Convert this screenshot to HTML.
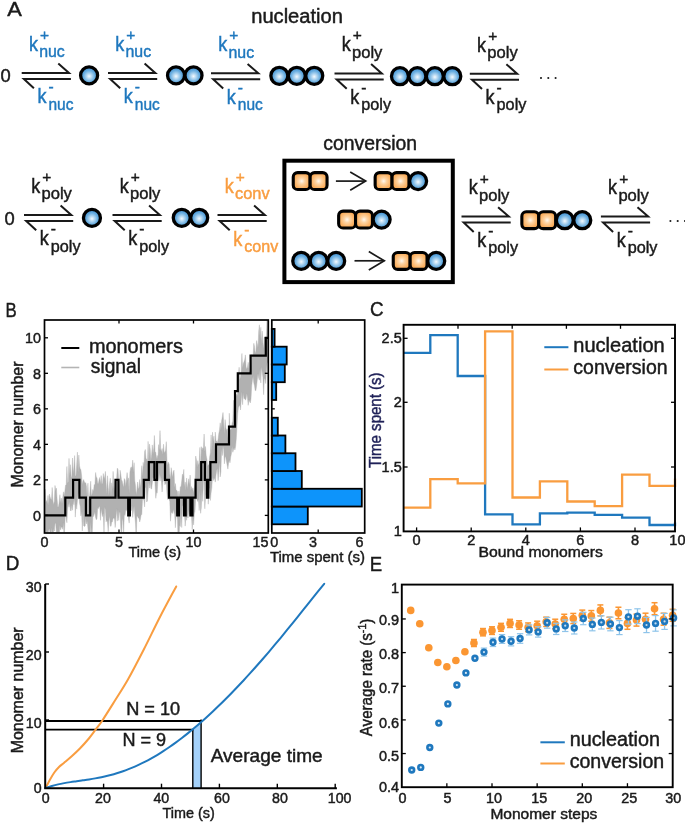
<!DOCTYPE html>
<html><head><meta charset="utf-8"><title>Figure</title>
<style>html,body{margin:0;padding:0;background:#fff}svg{display:block}</style></head>
<body>
<svg width="685" height="823" viewBox="0 0 685 823" font-family='"Liberation Sans", "DejaVu Sans", sans-serif'>
<defs>
<radialGradient id="gb" cx="50%" cy="55%" r="55%"><stop offset="0" stop-color="#f6fbfe"/><stop offset="0.25" stop-color="#b9daf2"/><stop offset="0.6" stop-color="#6aaee0"/><stop offset="1" stop-color="#3388d0"/></radialGradient>
<radialGradient id="go" cx="50%" cy="50%" r="60%"><stop offset="0" stop-color="#fff9f1"/><stop offset="0.3" stop-color="#fdd3a2"/><stop offset="0.7" stop-color="#fbb264"/><stop offset="1" stop-color="#f9a145"/></radialGradient>
<clipPath id="cB"><rect x="44.5" y="320" width="223.8" height="212.3"/></clipPath>
</defs>
<rect width="685" height="823" fill="#fff"/>
<text x="7.30" y="16.30" font-size="20.5" fill="#1a1a1a" stroke="#1a1a1a" stroke-width="0.45" textLength="14.60" lengthAdjust="spacingAndGlyphs">A</text>
<text x="251.20" y="23.20" font-size="19.5" fill="#1a1a1a" stroke="#1a1a1a" stroke-width="0.45" textLength="91.80" lengthAdjust="spacingAndGlyphs">nucleation</text>
<text x="323.30" y="150.00" font-size="19.5" fill="#1a1a1a" stroke="#1a1a1a" stroke-width="0.45" textLength="93.80" lengthAdjust="spacingAndGlyphs">conversion</text>
<text x="0.60" y="81.60" font-size="18" fill="#1a1a1a" stroke="#1a1a1a" stroke-width="0.45" textLength="10.20" lengthAdjust="spacingAndGlyphs">0</text>
<polyline points="21.70,72.90 69.00,72.90 58.30,63.50" fill="none" stroke="#1a1a1a" stroke-width="2.0" stroke-linejoin="miter"/>
<polyline points="70.90,78.90 23.90,78.90 33.90,88.20" fill="none" stroke="#1a1a1a" stroke-width="2.0" stroke-linejoin="miter"/>
<text x="28.90" y="50.70" font-size="20" fill="#1f78be" stroke="#1f78be" stroke-width="0.45" textLength="9.00" lengthAdjust="spacingAndGlyphs">k</text>
<text x="44.60" y="39.90" font-size="15.5" fill="#1f78be" stroke="#1f78be" stroke-width="0.45" text-anchor="middle">+</text>
<text x="39.20" y="57.30" font-size="16.8" fill="#1f78be" stroke="#1f78be" stroke-width="0.45" textLength="25.60" lengthAdjust="spacingAndGlyphs">nuc</text>
<text x="37.50" y="103.40" font-size="20" fill="#1f78be" stroke="#1f78be" stroke-width="0.45" textLength="9.00" lengthAdjust="spacingAndGlyphs">k</text>
<text x="51.10" y="92.40" font-size="15.5" fill="#1f78be" stroke="#1f78be" stroke-width="0.45" text-anchor="middle">-</text>
<text x="48.50" y="109.50" font-size="16.8" fill="#1f78be" stroke="#1f78be" stroke-width="0.45" textLength="25.00" lengthAdjust="spacingAndGlyphs">nuc</text>
<polyline points="108.00,72.90 155.30,72.90 144.60,63.50" fill="none" stroke="#1a1a1a" stroke-width="2.0" stroke-linejoin="miter"/>
<polyline points="157.20,78.90 110.20,78.90 120.20,88.20" fill="none" stroke="#1a1a1a" stroke-width="2.0" stroke-linejoin="miter"/>
<text x="115.20" y="50.70" font-size="20" fill="#1f78be" stroke="#1f78be" stroke-width="0.45" textLength="9.00" lengthAdjust="spacingAndGlyphs">k</text>
<text x="130.90" y="39.90" font-size="15.5" fill="#1f78be" stroke="#1f78be" stroke-width="0.45" text-anchor="middle">+</text>
<text x="125.50" y="57.30" font-size="16.8" fill="#1f78be" stroke="#1f78be" stroke-width="0.45" textLength="25.60" lengthAdjust="spacingAndGlyphs">nuc</text>
<text x="123.80" y="103.40" font-size="20" fill="#1f78be" stroke="#1f78be" stroke-width="0.45" textLength="9.00" lengthAdjust="spacingAndGlyphs">k</text>
<text x="137.40" y="92.40" font-size="15.5" fill="#1f78be" stroke="#1f78be" stroke-width="0.45" text-anchor="middle">-</text>
<text x="134.80" y="109.50" font-size="16.8" fill="#1f78be" stroke="#1f78be" stroke-width="0.45" textLength="25.00" lengthAdjust="spacingAndGlyphs">nuc</text>
<polyline points="211.00,73.30 258.30,73.30 247.60,63.90" fill="none" stroke="#1a1a1a" stroke-width="2.0" stroke-linejoin="miter"/>
<polyline points="260.20,79.30 213.20,79.30 223.20,88.60" fill="none" stroke="#1a1a1a" stroke-width="2.0" stroke-linejoin="miter"/>
<text x="218.20" y="51.10" font-size="20" fill="#1f78be" stroke="#1f78be" stroke-width="0.45" textLength="9.00" lengthAdjust="spacingAndGlyphs">k</text>
<text x="233.90" y="40.30" font-size="15.5" fill="#1f78be" stroke="#1f78be" stroke-width="0.45" text-anchor="middle">+</text>
<text x="228.50" y="57.70" font-size="16.8" fill="#1f78be" stroke="#1f78be" stroke-width="0.45" textLength="25.60" lengthAdjust="spacingAndGlyphs">nuc</text>
<text x="226.80" y="103.80" font-size="20" fill="#1f78be" stroke="#1f78be" stroke-width="0.45" textLength="9.00" lengthAdjust="spacingAndGlyphs">k</text>
<text x="240.40" y="92.80" font-size="15.5" fill="#1f78be" stroke="#1f78be" stroke-width="0.45" text-anchor="middle">-</text>
<text x="237.80" y="109.90" font-size="16.8" fill="#1f78be" stroke="#1f78be" stroke-width="0.45" textLength="25.00" lengthAdjust="spacingAndGlyphs">nuc</text>
<polyline points="334.50,73.40 381.80,73.40 371.10,64.00" fill="none" stroke="#1a1a1a" stroke-width="2.0" stroke-linejoin="miter"/>
<polyline points="383.70,79.40 336.70,79.40 346.70,88.70" fill="none" stroke="#1a1a1a" stroke-width="2.0" stroke-linejoin="miter"/>
<text x="341.70" y="51.20" font-size="20" fill="#1a1a1a" stroke="#1a1a1a" stroke-width="0.45" textLength="9.00" lengthAdjust="spacingAndGlyphs">k</text>
<text x="357.40" y="40.40" font-size="15.5" fill="#1a1a1a" stroke="#1a1a1a" stroke-width="0.45" text-anchor="middle">+</text>
<text x="352.00" y="57.80" font-size="16.8" fill="#1a1a1a" stroke="#1a1a1a" stroke-width="0.45" textLength="30.40" lengthAdjust="spacingAndGlyphs">poly</text>
<text x="350.30" y="103.90" font-size="20" fill="#1a1a1a" stroke="#1a1a1a" stroke-width="0.45" textLength="9.00" lengthAdjust="spacingAndGlyphs">k</text>
<text x="363.90" y="92.90" font-size="15.5" fill="#1a1a1a" stroke="#1a1a1a" stroke-width="0.45" text-anchor="middle">-</text>
<text x="361.30" y="110.00" font-size="16.8" fill="#1a1a1a" stroke="#1a1a1a" stroke-width="0.45" textLength="29.80" lengthAdjust="spacingAndGlyphs">poly</text>
<polyline points="469.80,73.70 517.10,73.70 506.40,64.30" fill="none" stroke="#1a1a1a" stroke-width="2.0" stroke-linejoin="miter"/>
<polyline points="519.00,79.70 472.00,79.70 482.00,89.00" fill="none" stroke="#1a1a1a" stroke-width="2.0" stroke-linejoin="miter"/>
<text x="477.00" y="51.50" font-size="20" fill="#1a1a1a" stroke="#1a1a1a" stroke-width="0.45" textLength="9.00" lengthAdjust="spacingAndGlyphs">k</text>
<text x="492.70" y="40.70" font-size="15.5" fill="#1a1a1a" stroke="#1a1a1a" stroke-width="0.45" text-anchor="middle">+</text>
<text x="487.30" y="58.10" font-size="16.8" fill="#1a1a1a" stroke="#1a1a1a" stroke-width="0.45" textLength="30.40" lengthAdjust="spacingAndGlyphs">poly</text>
<text x="485.60" y="104.20" font-size="20" fill="#1a1a1a" stroke="#1a1a1a" stroke-width="0.45" textLength="9.00" lengthAdjust="spacingAndGlyphs">k</text>
<text x="499.20" y="93.20" font-size="15.5" fill="#1a1a1a" stroke="#1a1a1a" stroke-width="0.45" text-anchor="middle">-</text>
<text x="496.60" y="110.30" font-size="16.8" fill="#1a1a1a" stroke="#1a1a1a" stroke-width="0.45" textLength="29.80" lengthAdjust="spacingAndGlyphs">poly</text>
<circle cx="89.10" cy="75.40" r="8.5" fill="url(#gb)" stroke="#000" stroke-width="3.3"/>
<circle cx="176.05" cy="75.40" r="8.5" fill="url(#gb)" stroke="#000" stroke-width="3.3"/>
<circle cx="193.50" cy="75.40" r="8.5" fill="url(#gb)" stroke="#000" stroke-width="3.3"/>
<circle cx="279.35" cy="75.80" r="8.5" fill="url(#gb)" stroke="#000" stroke-width="3.3"/>
<circle cx="296.80" cy="75.80" r="8.5" fill="url(#gb)" stroke="#000" stroke-width="3.3"/>
<circle cx="314.25" cy="75.80" r="8.5" fill="url(#gb)" stroke="#000" stroke-width="3.3"/>
<circle cx="399.95" cy="76.20" r="8.5" fill="url(#gb)" stroke="#000" stroke-width="3.3"/>
<circle cx="417.40" cy="76.20" r="8.5" fill="url(#gb)" stroke="#000" stroke-width="3.3"/>
<circle cx="434.85" cy="76.20" r="8.5" fill="url(#gb)" stroke="#000" stroke-width="3.3"/>
<circle cx="452.30" cy="76.20" r="8.5" fill="url(#gb)" stroke="#000" stroke-width="3.3"/>
<circle cx="541" cy="78" r="1.05" fill="#1a1a1a"/>
<circle cx="548.3" cy="78" r="1.05" fill="#1a1a1a"/>
<circle cx="555.6" cy="78" r="1.05" fill="#1a1a1a"/>
<text x="4.60" y="225.00" font-size="18" fill="#1a1a1a" stroke="#1a1a1a" stroke-width="0.45" textLength="10.20" lengthAdjust="spacingAndGlyphs">0</text>
<polyline points="24.00,214.90 71.30,214.90 60.60,205.50" fill="none" stroke="#1a1a1a" stroke-width="2.0" stroke-linejoin="miter"/>
<polyline points="73.20,220.90 26.20,220.90 36.20,230.20" fill="none" stroke="#1a1a1a" stroke-width="2.0" stroke-linejoin="miter"/>
<text x="31.20" y="192.70" font-size="20" fill="#1a1a1a" stroke="#1a1a1a" stroke-width="0.45" textLength="9.00" lengthAdjust="spacingAndGlyphs">k</text>
<text x="46.90" y="181.90" font-size="15.5" fill="#1a1a1a" stroke="#1a1a1a" stroke-width="0.45" text-anchor="middle">+</text>
<text x="41.50" y="199.30" font-size="16.8" fill="#1a1a1a" stroke="#1a1a1a" stroke-width="0.45" textLength="30.40" lengthAdjust="spacingAndGlyphs">poly</text>
<text x="39.80" y="245.40" font-size="20" fill="#1a1a1a" stroke="#1a1a1a" stroke-width="0.45" textLength="9.00" lengthAdjust="spacingAndGlyphs">k</text>
<text x="53.40" y="234.40" font-size="15.5" fill="#1a1a1a" stroke="#1a1a1a" stroke-width="0.45" text-anchor="middle">-</text>
<text x="50.80" y="251.50" font-size="16.8" fill="#1a1a1a" stroke="#1a1a1a" stroke-width="0.45" textLength="29.80" lengthAdjust="spacingAndGlyphs">poly</text>
<polyline points="112.50,214.90 159.80,214.90 149.10,205.50" fill="none" stroke="#1a1a1a" stroke-width="2.0" stroke-linejoin="miter"/>
<polyline points="161.70,220.90 114.70,220.90 124.70,230.20" fill="none" stroke="#1a1a1a" stroke-width="2.0" stroke-linejoin="miter"/>
<text x="119.70" y="192.70" font-size="20" fill="#1a1a1a" stroke="#1a1a1a" stroke-width="0.45" textLength="9.00" lengthAdjust="spacingAndGlyphs">k</text>
<text x="135.40" y="181.90" font-size="15.5" fill="#1a1a1a" stroke="#1a1a1a" stroke-width="0.45" text-anchor="middle">+</text>
<text x="130.00" y="199.30" font-size="16.8" fill="#1a1a1a" stroke="#1a1a1a" stroke-width="0.45" textLength="30.40" lengthAdjust="spacingAndGlyphs">poly</text>
<text x="128.30" y="245.40" font-size="20" fill="#1a1a1a" stroke="#1a1a1a" stroke-width="0.45" textLength="9.00" lengthAdjust="spacingAndGlyphs">k</text>
<text x="141.90" y="234.40" font-size="15.5" fill="#1a1a1a" stroke="#1a1a1a" stroke-width="0.45" text-anchor="middle">-</text>
<text x="139.30" y="251.50" font-size="16.8" fill="#1a1a1a" stroke="#1a1a1a" stroke-width="0.45" textLength="29.80" lengthAdjust="spacingAndGlyphs">poly</text>
<polyline points="217.50,215.00 264.80,215.00 254.10,205.60" fill="none" stroke="#1a1a1a" stroke-width="2.0" stroke-linejoin="miter"/>
<polyline points="266.70,221.00 219.70,221.00 229.70,230.30" fill="none" stroke="#1a1a1a" stroke-width="2.0" stroke-linejoin="miter"/>
<text x="224.70" y="192.80" font-size="20" fill="#f99d40" stroke="#f99d40" stroke-width="0.45" textLength="9.00" lengthAdjust="spacingAndGlyphs">k</text>
<text x="240.40" y="182.00" font-size="15.5" fill="#f99d40" stroke="#f99d40" stroke-width="0.45" text-anchor="middle">+</text>
<text x="235.00" y="199.40" font-size="16.8" fill="#f99d40" stroke="#f99d40" stroke-width="0.45" textLength="34.60" lengthAdjust="spacingAndGlyphs">conv</text>
<text x="233.30" y="245.50" font-size="20" fill="#f99d40" stroke="#f99d40" stroke-width="0.45" textLength="9.00" lengthAdjust="spacingAndGlyphs">k</text>
<text x="246.90" y="234.50" font-size="15.5" fill="#f99d40" stroke="#f99d40" stroke-width="0.45" text-anchor="middle">-</text>
<text x="244.30" y="251.60" font-size="16.8" fill="#f99d40" stroke="#f99d40" stroke-width="0.45" textLength="34.00" lengthAdjust="spacingAndGlyphs">conv</text>
<polyline points="461.50,216.60 508.80,216.60 498.10,207.20" fill="none" stroke="#1a1a1a" stroke-width="2.0" stroke-linejoin="miter"/>
<polyline points="510.70,222.60 463.70,222.60 473.70,231.90" fill="none" stroke="#1a1a1a" stroke-width="2.0" stroke-linejoin="miter"/>
<text x="468.70" y="194.40" font-size="20" fill="#1a1a1a" stroke="#1a1a1a" stroke-width="0.45" textLength="9.00" lengthAdjust="spacingAndGlyphs">k</text>
<text x="484.40" y="183.60" font-size="15.5" fill="#1a1a1a" stroke="#1a1a1a" stroke-width="0.45" text-anchor="middle">+</text>
<text x="479.00" y="201.00" font-size="16.8" fill="#1a1a1a" stroke="#1a1a1a" stroke-width="0.45" textLength="30.40" lengthAdjust="spacingAndGlyphs">poly</text>
<text x="477.30" y="247.10" font-size="20" fill="#1a1a1a" stroke="#1a1a1a" stroke-width="0.45" textLength="9.00" lengthAdjust="spacingAndGlyphs">k</text>
<text x="490.90" y="236.10" font-size="15.5" fill="#1a1a1a" stroke="#1a1a1a" stroke-width="0.45" text-anchor="middle">-</text>
<text x="488.30" y="253.20" font-size="16.8" fill="#1a1a1a" stroke="#1a1a1a" stroke-width="0.45" textLength="29.80" lengthAdjust="spacingAndGlyphs">poly</text>
<polyline points="600.90,216.60 648.20,216.60 637.50,207.20" fill="none" stroke="#1a1a1a" stroke-width="2.0" stroke-linejoin="miter"/>
<polyline points="650.10,222.60 603.10,222.60 613.10,231.90" fill="none" stroke="#1a1a1a" stroke-width="2.0" stroke-linejoin="miter"/>
<text x="608.10" y="194.40" font-size="20" fill="#1a1a1a" stroke="#1a1a1a" stroke-width="0.45" textLength="9.00" lengthAdjust="spacingAndGlyphs">k</text>
<text x="623.80" y="183.60" font-size="15.5" fill="#1a1a1a" stroke="#1a1a1a" stroke-width="0.45" text-anchor="middle">+</text>
<text x="618.40" y="201.00" font-size="16.8" fill="#1a1a1a" stroke="#1a1a1a" stroke-width="0.45" textLength="30.40" lengthAdjust="spacingAndGlyphs">poly</text>
<text x="616.70" y="247.10" font-size="20" fill="#1a1a1a" stroke="#1a1a1a" stroke-width="0.45" textLength="9.00" lengthAdjust="spacingAndGlyphs">k</text>
<text x="630.30" y="236.10" font-size="15.5" fill="#1a1a1a" stroke="#1a1a1a" stroke-width="0.45" text-anchor="middle">-</text>
<text x="627.70" y="253.20" font-size="16.8" fill="#1a1a1a" stroke="#1a1a1a" stroke-width="0.45" textLength="29.80" lengthAdjust="spacingAndGlyphs">poly</text>
<circle cx="91.95" cy="217.90" r="8.5" fill="url(#gb)" stroke="#000" stroke-width="3.3"/>
<circle cx="181.75" cy="217.80" r="8.5" fill="url(#gb)" stroke="#000" stroke-width="3.3"/>
<circle cx="199.20" cy="217.80" r="8.5" fill="url(#gb)" stroke="#000" stroke-width="3.3"/>
<rect x="521.85" y="211.75" width="16.9" height="16.9" rx="4.4" fill="url(#go)" stroke="#000" stroke-width="3.1"/>
<rect x="538.75" y="211.75" width="16.9" height="16.9" rx="4.4" fill="url(#go)" stroke="#000" stroke-width="3.1"/>
<circle cx="564.80" cy="220.20" r="8.5" fill="url(#gb)" stroke="#000" stroke-width="3.3"/>
<circle cx="582.25" cy="220.20" r="8.5" fill="url(#gb)" stroke="#000" stroke-width="3.3"/>
<circle cx="670.4" cy="221" r="1.05" fill="#1a1a1a"/>
<circle cx="677.7" cy="221" r="1.05" fill="#1a1a1a"/>
<circle cx="685" cy="221" r="1.05" fill="#1a1a1a"/>
<rect x="284.4" y="160.7" width="168.4" height="121.4" fill="none" stroke="#000" stroke-width="4"/>
<rect x="293.25" y="172.65" width="16.9" height="16.9" rx="4.4" fill="url(#go)" stroke="#000" stroke-width="3.1"/>
<rect x="310.15" y="172.65" width="16.9" height="16.9" rx="4.4" fill="url(#go)" stroke="#000" stroke-width="3.1"/>
<line x1="335.90" y1="181.10" x2="365.70" y2="181.10" stroke="#1a1a1a" stroke-width="1.7" stroke-linecap="butt"/>
<polyline points="350.20,171.90 365.70,181.10 350.20,190.30" fill="none" stroke="#1a1a1a" stroke-width="1.7" stroke-linejoin="miter"/>
<rect x="375.15" y="172.65" width="16.9" height="16.9" rx="4.4" fill="url(#go)" stroke="#000" stroke-width="3.1"/>
<rect x="392.05" y="172.65" width="16.9" height="16.9" rx="4.4" fill="url(#go)" stroke="#000" stroke-width="3.1"/>
<circle cx="418.10" cy="181.10" r="8.5" fill="url(#gb)" stroke="#000" stroke-width="3.3"/>
<rect x="338.65" y="211.15" width="16.9" height="16.9" rx="4.4" fill="url(#go)" stroke="#000" stroke-width="3.1"/>
<rect x="355.55" y="211.15" width="16.9" height="16.9" rx="4.4" fill="url(#go)" stroke="#000" stroke-width="3.1"/>
<circle cx="381.60" cy="219.60" r="8.5" fill="url(#gb)" stroke="#000" stroke-width="3.3"/>
<circle cx="301.25" cy="260.90" r="8.5" fill="url(#gb)" stroke="#000" stroke-width="3.3"/>
<circle cx="318.70" cy="260.90" r="8.5" fill="url(#gb)" stroke="#000" stroke-width="3.3"/>
<circle cx="336.15" cy="260.90" r="8.5" fill="url(#gb)" stroke="#000" stroke-width="3.3"/>
<line x1="354.50" y1="260.80" x2="384.30" y2="260.80" stroke="#1a1a1a" stroke-width="1.7" stroke-linecap="butt"/>
<polyline points="368.80,251.60 384.30,260.80 368.80,270.00" fill="none" stroke="#1a1a1a" stroke-width="1.7" stroke-linejoin="miter"/>
<rect x="393.25" y="252.45" width="16.9" height="16.9" rx="4.4" fill="url(#go)" stroke="#000" stroke-width="3.1"/>
<rect x="410.15" y="252.45" width="16.9" height="16.9" rx="4.4" fill="url(#go)" stroke="#000" stroke-width="3.1"/>
<circle cx="436.20" cy="260.90" r="8.5" fill="url(#gb)" stroke="#000" stroke-width="3.3"/>
<text x="5.50" y="316.90" font-size="20.5" fill="#1a1a1a" stroke="#1a1a1a" stroke-width="0.45" textLength="11.20" lengthAdjust="spacingAndGlyphs">B</text>
<g clip-path="url(#cB)">
<polygon points="44.5,501.2 45.2,489.1 45.9,502.3 46.6,500.5 47.3,503.9 48.0,495.5 48.7,505.4 49.4,494.1 50.1,497.1 50.8,499.0 51.5,499.8 52.2,487.5 52.9,500.7 53.6,504.7 54.3,501.4 55.0,485.5 55.7,490.8 56.4,488.1 57.1,499.1 57.8,506.9 58.5,506.7 59.2,502.1 59.9,494.7 60.6,502.9 61.3,498.1 62.0,504.0 62.7,498.4 63.4,491.8 64.1,495.9 64.8,491.8 65.5,485.3 66.2,485.1 66.9,466.5 67.6,483.0 68.3,481.8 69.0,458.4 69.7,476.1 70.4,464.7 71.1,476.0 71.8,478.5 72.5,458.0 73.2,473.8 73.9,467.4 74.6,455.6 75.3,475.7 76.0,475.8 76.7,464.8 77.4,452.1 78.1,472.8 78.8,455.0 79.5,465.7 80.2,469.1 80.9,469.6 81.6,475.6 82.3,484.7 83.0,481.1 83.7,479.6 84.4,482.1 85.1,483.0 85.8,482.7 86.5,486.8 87.2,499.2 87.9,483.2 88.6,499.2 89.3,499.9 90.0,490.4 90.7,481.2 91.4,495.7 92.1,494.1 92.8,489.4 93.5,491.5 94.2,484.6 94.9,484.9 95.6,472.5 96.3,477.0 97.0,478.0 97.7,483.4 98.4,483.4 99.1,479.5 99.8,477.4 100.5,484.4 101.2,475.6 101.9,484.6 102.6,482.8 103.3,473.5 104.0,478.9 104.7,476.9 105.4,471.4 106.1,483.6 106.8,493.9 107.5,475.8 108.2,488.0 108.9,495.4 109.6,483.5 110.3,478.3 111.0,497.2 111.7,482.8 112.4,489.2 113.1,471.4 113.8,486.1 114.5,492.2 115.2,482.4 115.9,482.4 116.6,478.8 117.3,468.2 118.0,469.0 118.7,480.8 119.4,489.6 120.1,470.3 120.8,474.4 121.5,479.7 122.2,481.0 122.9,484.5 123.6,487.6 124.3,478.6 125.0,480.0 125.7,486.7 126.4,479.8 127.1,472.6 127.8,480.5 128.5,477.9 129.2,493.6 129.9,472.3 130.6,467.9 131.3,466.8 132.0,469.1 132.7,460.1 133.4,472.6 134.1,462.7 134.8,480.7 135.5,485.7 136.2,494.7 136.9,490.3 137.6,482.0 138.3,488.0 139.0,488.8 139.7,479.5 140.4,488.0 141.1,480.4 141.8,465.7 142.5,476.8 143.2,462.4 143.9,467.5 144.6,451.7 145.3,449.5 146.0,458.8 146.7,459.0 147.4,464.3 148.1,441.4 148.8,461.5 149.5,444.1 150.2,449.2 150.9,460.9 151.6,454.4 152.3,444.9 153.0,453.9 153.7,448.4 154.4,435.5 155.1,452.1 155.8,452.3 156.5,459.2 157.2,455.4 157.9,458.9 158.6,444.6 159.3,450.4 160.0,430.6 160.7,449.1 161.4,451.7 162.1,448.5 162.8,454.5 163.5,444.2 164.2,452.5 164.9,452.3 165.6,449.9 166.3,441.7 167.0,460.9 167.7,465.3 168.4,462.2 169.1,464.1 169.8,474.0 170.5,478.9 171.2,467.7 171.9,472.4 172.6,477.4 173.3,471.8 174.0,470.2 174.7,487.4 175.4,483.6 176.1,490.6 176.8,490.3 177.5,492.0 178.2,499.5 178.9,491.0 179.6,497.6 180.3,486.7 181.0,487.1 181.7,481.0 182.4,474.1 183.1,476.3 183.8,469.4 184.5,486.9 185.2,482.0 185.9,490.6 186.6,478.1 187.3,488.9 188.0,483.8 188.7,478.8 189.4,485.2 190.1,475.1 190.8,490.6 191.5,486.6 192.2,490.2 192.9,487.9 193.6,492.9 194.3,488.3 195.0,483.8 195.7,456.0 196.4,459.8 197.1,467.1 197.8,460.6 198.5,465.2 199.2,463.0 199.9,447.4 200.6,471.0 201.3,446.6 202.0,450.3 202.7,447.8 203.4,448.5 204.1,434.0 204.8,451.5 205.5,446.5 206.2,455.6 206.9,459.1 207.6,466.5 208.3,464.7 209.0,464.9 209.7,456.7 210.4,452.7 211.1,434.9 211.8,453.3 212.5,432.2 213.2,441.5 213.9,436.2 214.6,450.0 215.3,432.1 216.0,440.9 216.7,441.1 217.4,442.8 218.1,439.0 218.8,433.5 219.5,429.9 220.2,422.8 220.9,430.2 221.6,420.8 222.3,417.1 223.0,412.5 223.7,422.6 224.4,434.0 225.1,419.6 225.8,427.5 226.5,430.8 227.2,428.8 227.9,437.4 228.6,440.2 229.3,413.2 230.0,429.5 230.7,429.8 231.4,428.9 232.1,422.9 232.8,421.2 233.5,400.3 234.2,421.7 234.9,415.8 235.6,401.7 236.3,394.2 237.0,396.1 237.7,392.4 238.4,376.5 239.1,367.3 239.8,379.4 240.5,376.8 241.2,371.1 241.9,353.5 242.6,368.1 243.3,363.6 244.0,361.8 244.7,359.8 245.4,354.9 246.1,367.1 246.8,369.2 247.5,366.7 248.2,362.3 248.9,368.0 249.6,374.3 250.3,372.3 251.0,366.3 251.7,354.5 252.4,357.4 253.1,355.5 253.8,343.3 254.5,346.8 255.2,353.6 255.9,351.0 256.6,340.6 257.3,344.1 258.0,347.8 258.7,331.2 259.4,324.8 260.1,338.7 260.8,327.4 261.5,344.1 262.2,331.1 262.9,343.1 263.6,349.0 264.3,337.3 265.0,337.4 265.7,347.9 266.4,337.3 267.1,315.1 267.8,330.6 267.8,362.0 267.1,363.4 266.4,371.2 265.7,383.6 265.0,378.7 264.3,378.8 263.6,394.7 262.9,377.3 262.2,371.9 261.5,366.4 260.8,382.9 260.1,368.0 259.4,380.2 258.7,378.1 258.0,373.6 257.3,379.4 256.6,385.8 255.9,390.6 255.2,390.6 254.5,385.7 253.8,383.0 253.1,376.3 252.4,380.2 251.7,385.8 251.0,398.9 250.3,402.9 249.6,401.4 248.9,399.8 248.2,405.3 247.5,397.9 246.8,393.4 246.1,398.6 245.4,400.2 244.7,398.3 244.0,398.9 243.3,392.8 242.6,404.7 241.9,391.8 241.2,400.6 240.5,410.0 239.8,405.3 239.1,405.9 238.4,407.6 237.7,414.0 237.0,426.1 236.3,438.6 235.6,446.6 234.9,450.0 234.2,447.4 233.5,449.7 232.8,452.3 232.1,446.5 231.4,453.8 230.7,457.0 230.0,462.8 229.3,459.9 228.6,462.9 227.9,469.1 227.2,465.2 226.5,461.7 225.8,457.6 225.1,456.5 224.4,463.8 223.7,449.4 223.0,445.9 222.3,455.6 221.6,448.9 220.9,471.8 220.2,476.9 219.5,461.1 218.8,472.3 218.1,480.7 217.4,468.6 216.7,470.5 216.0,475.1 215.3,482.1 214.6,478.7 213.9,478.3 213.2,480.6 212.5,476.5 211.8,487.8 211.1,492.7 210.4,500.5 209.7,488.6 209.0,487.9 208.3,504.2 207.6,488.7 206.9,496.5 206.2,493.2 205.5,496.8 204.8,508.8 204.1,481.1 203.4,480.6 202.7,501.3 202.0,490.4 201.3,507.8 200.6,513.3 199.9,490.6 199.2,510.5 198.5,499.1 197.8,501.5 197.1,499.6 196.4,498.5 195.7,498.4 195.0,511.3 194.3,514.0 193.6,524.9 192.9,517.1 192.2,529.4 191.5,516.0 190.8,516.2 190.1,513.0 189.4,514.5 188.7,510.3 188.0,518.0 187.3,514.6 186.6,520.3 185.9,515.4 185.2,526.1 184.5,514.2 183.8,505.2 183.1,506.3 182.4,505.4 181.7,527.5 181.0,512.6 180.3,526.4 179.6,525.6 178.9,539.8 178.2,545.7 177.5,520.1 176.8,515.2 176.1,512.0 175.4,527.7 174.7,514.7 174.0,512.3 173.3,509.3 172.6,513.5 171.9,512.2 171.2,513.0 170.5,521.2 169.8,501.2 169.1,499.4 168.4,495.0 167.7,499.5 167.0,493.7 166.3,481.5 165.6,483.7 164.9,484.7 164.2,478.0 163.5,479.7 162.8,482.4 162.1,492.0 161.4,480.9 160.7,475.1 160.0,480.9 159.3,472.7 158.6,479.6 157.9,481.0 157.2,493.1 156.5,492.5 155.8,498.3 155.1,485.9 154.4,470.5 153.7,478.0 153.0,476.8 152.3,483.1 151.6,489.0 150.9,488.5 150.2,480.8 149.5,488.1 148.8,482.0 148.1,490.9 147.4,500.8 146.7,502.0 146.0,487.0 145.3,488.2 144.6,506.9 143.9,500.2 143.2,499.0 142.5,499.6 141.8,514.6 141.1,514.7 140.4,519.2 139.7,522.0 139.0,518.2 138.3,518.1 137.6,516.4 136.9,516.1 136.2,539.5 135.5,523.7 134.8,514.9 134.1,506.0 133.4,511.2 132.7,517.4 132.0,505.4 131.3,510.7 130.6,508.6 129.9,510.5 129.2,523.1 128.5,519.0 127.8,504.8 127.1,511.3 126.4,509.4 125.7,510.6 125.0,515.4 124.3,514.6 123.6,535.6 122.9,518.5 122.2,521.0 121.5,538.2 120.8,528.5 120.1,512.2 119.4,512.6 118.7,520.4 118.0,509.2 117.3,521.1 116.6,508.7 115.9,517.8 115.2,527.5 114.5,518.7 113.8,518.2 113.1,518.2 112.4,521.8 111.7,522.0 111.0,526.4 110.3,525.8 109.6,516.0 108.9,520.3 108.2,531.7 107.5,522.7 106.8,519.9 106.1,521.8 105.4,510.0 104.7,506.9 104.0,533.6 103.3,513.0 102.6,516.6 101.9,513.1 101.2,508.4 100.5,520.3 99.8,506.7 99.1,506.4 98.4,508.5 97.7,508.2 97.0,518.4 96.3,519.8 95.6,517.4 94.9,511.9 94.2,514.3 93.5,516.3 92.8,517.3 92.1,537.3 91.4,534.2 90.7,521.4 90.0,540.6 89.3,543.5 88.6,536.5 87.9,527.8 87.2,520.9 86.5,524.0 85.8,518.0 85.1,526.0 84.4,526.4 83.7,525.8 83.0,510.4 82.3,530.9 81.6,511.5 80.9,515.9 80.2,506.2 79.5,502.9 78.8,492.5 78.1,494.3 77.4,500.5 76.7,509.1 76.0,503.6 75.3,517.1 74.6,497.1 73.9,504.7 73.2,500.3 72.5,510.2 71.8,505.0 71.1,510.9 70.4,510.4 69.7,501.8 69.0,507.2 68.3,503.1 67.6,509.9 66.9,522.7 66.2,518.2 65.5,510.0 64.8,526.2 64.1,537.7 63.4,522.7 62.7,529.3 62.0,526.7 61.3,527.4 60.6,529.9 59.9,524.9 59.2,536.9 58.5,535.3 57.8,534.3 57.1,541.6 56.4,533.2 55.7,522.8 55.0,524.0 54.3,531.2 53.6,529.0 52.9,545.4 52.2,533.7 51.5,527.7 50.8,551.5 50.1,534.2 49.4,528.4 48.7,530.3 48.0,534.0 47.3,535.0 46.6,547.0 45.9,535.1 45.2,532.0 44.5,528.0" fill="#b1b1b1" stroke="#b1b1b1" stroke-width="0.4" stroke-linejoin="round"/>
<polyline points="44.50,515.40 65.30,515.40 65.30,497.64 73.10,497.64 73.10,479.88 79.40,479.88 79.40,497.64 85.90,497.64 85.90,515.40 90.20,515.40 90.20,497.64 115.50,497.64 115.50,479.88 118.50,479.88 118.50,497.64 128.20,497.64 128.20,515.40 129.90,515.40 129.90,497.64 143.80,497.64 143.80,479.88 148.80,479.88 148.80,462.12 154.40,462.12 154.40,479.88 157.00,479.88 157.00,462.12 165.00,462.12 165.00,479.88 169.00,479.88 169.00,497.64 177.20,497.64 177.20,515.40 178.90,515.40 178.90,497.64 184.00,497.64 184.00,515.40 185.70,515.40 185.70,497.64 190.40,497.64 190.40,515.40 192.50,515.40 192.50,497.64 195.60,497.64 195.60,479.88 201.20,479.88 201.20,462.12 204.90,462.12 204.90,479.88 207.00,479.88 207.00,497.64 208.30,497.64 208.30,479.88 210.40,479.88 210.40,462.12 216.00,462.12 216.00,444.36 229.00,444.36 229.00,426.60 235.00,426.60 235.00,391.08 237.80,391.08 237.80,373.32 250.60,373.32 250.60,355.56 265.80,355.56 265.80,337.80 268.30,337.80" fill="none" stroke="#000" stroke-width="2.2" stroke-linejoin="miter"/>
</g>
<rect x="44.5" y="320.0" width="223.80" height="213.00" fill="none" stroke="#000" stroke-width="1.7"/>
<line x1="44.50" y1="515.40" x2="48.00" y2="515.40" stroke="#000" stroke-width="1.3" stroke-linecap="butt"/>
<line x1="268.30" y1="515.40" x2="264.80" y2="515.40" stroke="#000" stroke-width="1.3" stroke-linecap="butt"/>
<text x="40.90" y="520.60" font-size="14.8" fill="#1a1a1a" stroke="#1a1a1a" stroke-width="0.45" text-anchor="end" textLength="8.00" lengthAdjust="spacingAndGlyphs">0</text>
<line x1="44.50" y1="479.88" x2="48.00" y2="479.88" stroke="#000" stroke-width="1.3" stroke-linecap="butt"/>
<line x1="268.30" y1="479.88" x2="264.80" y2="479.88" stroke="#000" stroke-width="1.3" stroke-linecap="butt"/>
<text x="40.90" y="485.08" font-size="14.8" fill="#1a1a1a" stroke="#1a1a1a" stroke-width="0.45" text-anchor="end" textLength="8.00" lengthAdjust="spacingAndGlyphs">2</text>
<line x1="44.50" y1="444.36" x2="48.00" y2="444.36" stroke="#000" stroke-width="1.3" stroke-linecap="butt"/>
<line x1="268.30" y1="444.36" x2="264.80" y2="444.36" stroke="#000" stroke-width="1.3" stroke-linecap="butt"/>
<text x="40.90" y="449.56" font-size="14.8" fill="#1a1a1a" stroke="#1a1a1a" stroke-width="0.45" text-anchor="end" textLength="8.00" lengthAdjust="spacingAndGlyphs">4</text>
<line x1="44.50" y1="408.84" x2="48.00" y2="408.84" stroke="#000" stroke-width="1.3" stroke-linecap="butt"/>
<line x1="268.30" y1="408.84" x2="264.80" y2="408.84" stroke="#000" stroke-width="1.3" stroke-linecap="butt"/>
<text x="40.90" y="414.04" font-size="14.8" fill="#1a1a1a" stroke="#1a1a1a" stroke-width="0.45" text-anchor="end" textLength="8.00" lengthAdjust="spacingAndGlyphs">6</text>
<line x1="44.50" y1="373.32" x2="48.00" y2="373.32" stroke="#000" stroke-width="1.3" stroke-linecap="butt"/>
<line x1="268.30" y1="373.32" x2="264.80" y2="373.32" stroke="#000" stroke-width="1.3" stroke-linecap="butt"/>
<text x="40.90" y="378.52" font-size="14.8" fill="#1a1a1a" stroke="#1a1a1a" stroke-width="0.45" text-anchor="end" textLength="8.00" lengthAdjust="spacingAndGlyphs">8</text>
<line x1="44.50" y1="337.80" x2="48.00" y2="337.80" stroke="#000" stroke-width="1.3" stroke-linecap="butt"/>
<line x1="268.30" y1="337.80" x2="264.80" y2="337.80" stroke="#000" stroke-width="1.3" stroke-linecap="butt"/>
<text x="40.90" y="343.00" font-size="14.8" fill="#1a1a1a" stroke="#1a1a1a" stroke-width="0.45" text-anchor="end" textLength="16.00" lengthAdjust="spacingAndGlyphs">10</text>
<line x1="119.00" y1="533.00" x2="119.00" y2="529.50" stroke="#000" stroke-width="1.3" stroke-linecap="butt"/>
<line x1="119.00" y1="320.00" x2="119.00" y2="323.50" stroke="#000" stroke-width="1.3" stroke-linecap="butt"/>
<line x1="193.50" y1="533.00" x2="193.50" y2="529.50" stroke="#000" stroke-width="1.3" stroke-linecap="butt"/>
<line x1="193.50" y1="320.00" x2="193.50" y2="323.50" stroke="#000" stroke-width="1.3" stroke-linecap="butt"/>
<text x="44.50" y="546.80" font-size="14.8" fill="#1a1a1a" stroke="#1a1a1a" stroke-width="0.45" text-anchor="middle" textLength="8.00" lengthAdjust="spacingAndGlyphs">0</text>
<text x="119.00" y="546.80" font-size="14.8" fill="#1a1a1a" stroke="#1a1a1a" stroke-width="0.45" text-anchor="middle" textLength="8.00" lengthAdjust="spacingAndGlyphs">5</text>
<text x="193.50" y="546.80" font-size="14.8" fill="#1a1a1a" stroke="#1a1a1a" stroke-width="0.45" text-anchor="middle" textLength="16.00" lengthAdjust="spacingAndGlyphs">10</text>
<text x="268.60" y="546.80" font-size="14.8" fill="#1a1a1a" stroke="#1a1a1a" stroke-width="0.45" text-anchor="end" textLength="16.00" lengthAdjust="spacingAndGlyphs">15</text>
<text x="128.40" y="557.30" font-size="15" fill="#1a1a1a" stroke="#1a1a1a" stroke-width="0.45" textLength="52.60" lengthAdjust="spacingAndGlyphs">Time (s)</text>
<text x="23.10" y="487.50" font-size="15.6" fill="#1a1a1a" stroke="#1a1a1a" stroke-width="0.45" textLength="126.00" lengthAdjust="spacingAndGlyphs" transform="rotate(-90 23.10 487.50)">Monomer number</text>
<line x1="61.30" y1="348.00" x2="79.30" y2="348.00" stroke="#000" stroke-width="2" stroke-linecap="butt"/>
<line x1="61.30" y1="367.50" x2="79.30" y2="367.50" stroke="#b4b4b4" stroke-width="1.6" stroke-linecap="butt"/>
<text x="88.90" y="352.70" font-size="20" fill="#1a1a1a" stroke="#1a1a1a" stroke-width="0.45" textLength="94.00" lengthAdjust="spacingAndGlyphs">monomers</text>
<text x="90.80" y="373.00" font-size="20" fill="#1a1a1a" stroke="#1a1a1a" stroke-width="0.45" textLength="50.20" lengthAdjust="spacingAndGlyphs">signal</text>
<line x1="271.80" y1="515.40" x2="274.80" y2="515.40" stroke="#000" stroke-width="1.3" stroke-linecap="butt"/>
<line x1="271.80" y1="479.88" x2="274.80" y2="479.88" stroke="#000" stroke-width="1.3" stroke-linecap="butt"/>
<line x1="271.80" y1="444.36" x2="274.80" y2="444.36" stroke="#000" stroke-width="1.3" stroke-linecap="butt"/>
<line x1="271.80" y1="408.84" x2="274.80" y2="408.84" stroke="#000" stroke-width="1.3" stroke-linecap="butt"/>
<line x1="271.80" y1="373.32" x2="274.80" y2="373.32" stroke="#000" stroke-width="1.3" stroke-linecap="butt"/>
<line x1="271.80" y1="337.80" x2="274.80" y2="337.80" stroke="#000" stroke-width="1.3" stroke-linecap="butt"/>
<rect x="271.8" y="506.52" width="36" height="17.76" fill="#0d94fb" stroke="#000" stroke-width="1.8"/>
<rect x="271.8" y="488.76" width="90" height="17.76" fill="#0d94fb" stroke="#000" stroke-width="1.8"/>
<rect x="271.8" y="471.00" width="30" height="17.76" fill="#0d94fb" stroke="#000" stroke-width="1.8"/>
<rect x="271.8" y="453.24" width="23.7" height="17.76" fill="#0d94fb" stroke="#000" stroke-width="1.8"/>
<rect x="271.8" y="435.48" width="13.6" height="17.76" fill="#0d94fb" stroke="#000" stroke-width="1.8"/>
<rect x="271.8" y="417.72" width="6" height="17.76" fill="#0d94fb" stroke="#000" stroke-width="1.8"/>
<rect x="271.8" y="382.20" width="4.4" height="17.76" fill="#0d94fb" stroke="#000" stroke-width="1.8"/>
<rect x="271.8" y="364.44" width="13" height="17.76" fill="#0d94fb" stroke="#000" stroke-width="1.8"/>
<rect x="271.8" y="346.68" width="14.9" height="17.76" fill="#0d94fb" stroke="#000" stroke-width="1.8"/>
<rect x="271.8" y="328.92" width="2.8" height="17.76" fill="#0d94fb" stroke="#000" stroke-width="1.8"/>
<rect x="271.8" y="320.0" width="92.90" height="213.00" fill="none" stroke="#000" stroke-width="1.7"/>
<line x1="318.20" y1="320.00" x2="318.20" y2="323.50" stroke="#000" stroke-width="1.3" stroke-linecap="butt"/>
<line x1="318.20" y1="533.00" x2="318.20" y2="529.50" stroke="#000" stroke-width="1.3" stroke-linecap="butt"/>
<text x="270.30" y="546.80" font-size="14.8" fill="#1a1a1a" stroke="#1a1a1a" stroke-width="0.45" textLength="8.00" lengthAdjust="spacingAndGlyphs">0</text>
<text x="313.00" y="546.80" font-size="14.8" fill="#1a1a1a" stroke="#1a1a1a" stroke-width="0.45" text-anchor="middle" textLength="8.00" lengthAdjust="spacingAndGlyphs">3</text>
<text x="363.40" y="546.80" font-size="14.8" fill="#1a1a1a" stroke="#1a1a1a" stroke-width="0.45" text-anchor="end" textLength="8.00" lengthAdjust="spacingAndGlyphs">6</text>
<text x="269.90" y="562.00" font-size="15" fill="#1a1a1a" stroke="#1a1a1a" stroke-width="0.45" textLength="95.00" lengthAdjust="spacingAndGlyphs">Time spent (s)</text>
<text x="370.00" y="316.30" font-size="20.5" fill="#1a1a1a" stroke="#1a1a1a" stroke-width="0.45" textLength="13.60" lengthAdjust="spacingAndGlyphs">C</text>
<polyline points="403.60,352.90 430.30,352.90 430.30,335.20 457.70,335.20 457.70,376.00 485.10,376.00 485.10,514.40 512.50,514.40 512.50,524.30 539.90,524.30 539.90,513.40 567.30,513.40 567.30,512.70 594.70,512.70 594.70,514.90 622.10,514.90 622.10,517.60 649.50,517.60 649.50,525.00 675.00,525.00 675.00,522.60" fill="none" stroke="#1f78be" stroke-width="2.3" stroke-linejoin="miter"/>
<polyline points="403.60,507.70 430.30,507.70 430.30,479.10 457.70,479.10 457.70,483.40 485.10,483.40 485.10,331.30 512.50,331.30 512.50,497.50 539.90,497.50 539.90,481.40 567.30,481.40 567.30,501.50 594.70,501.50 594.70,506.20 622.10,506.20 622.10,474.70 649.50,474.70 649.50,485.80 675.00,485.80 675.00,478.40" fill="none" stroke="#f99d40" stroke-width="2.3" stroke-linejoin="miter"/>
<rect x="403.6" y="324.8" width="271.40" height="206.60" fill="none" stroke="#000" stroke-width="1.9"/>
<line x1="403.60" y1="338.30" x2="407.60" y2="338.30" stroke="#000" stroke-width="1.3" stroke-linecap="butt"/>
<line x1="675.00" y1="338.30" x2="671.00" y2="338.30" stroke="#000" stroke-width="1.3" stroke-linecap="butt"/>
<text x="401.80" y="343.20" font-size="13.8" fill="#1a1a1a" stroke="#1a1a1a" stroke-width="0.45" text-anchor="end" textLength="20.17" lengthAdjust="spacingAndGlyphs">2.5</text>
<line x1="403.60" y1="402.30" x2="407.60" y2="402.30" stroke="#000" stroke-width="1.3" stroke-linecap="butt"/>
<line x1="675.00" y1="402.30" x2="671.00" y2="402.30" stroke="#000" stroke-width="1.3" stroke-linecap="butt"/>
<text x="401.80" y="407.20" font-size="13.8" fill="#1a1a1a" stroke="#1a1a1a" stroke-width="0.45" text-anchor="end" textLength="8.10" lengthAdjust="spacingAndGlyphs">2</text>
<line x1="403.60" y1="467.00" x2="407.60" y2="467.00" stroke="#000" stroke-width="1.3" stroke-linecap="butt"/>
<line x1="675.00" y1="467.00" x2="671.00" y2="467.00" stroke="#000" stroke-width="1.3" stroke-linecap="butt"/>
<text x="401.80" y="471.90" font-size="13.8" fill="#1a1a1a" stroke="#1a1a1a" stroke-width="0.45" text-anchor="end" textLength="20.17" lengthAdjust="spacingAndGlyphs">1.5</text>
<text x="401.80" y="535.90" font-size="13.8" fill="#1a1a1a" stroke="#1a1a1a" stroke-width="0.45" text-anchor="end" textLength="8.10" lengthAdjust="spacingAndGlyphs">1</text>
<line x1="416.60" y1="531.40" x2="416.60" y2="527.40" stroke="#000" stroke-width="1.3" stroke-linecap="butt"/>
<text x="416.60" y="545.00" font-size="13.8" fill="#1a1a1a" stroke="#1a1a1a" stroke-width="0.45" text-anchor="middle" textLength="8.10" lengthAdjust="spacingAndGlyphs">0</text>
<line x1="471.20" y1="531.40" x2="471.20" y2="527.40" stroke="#000" stroke-width="1.3" stroke-linecap="butt"/>
<text x="471.20" y="545.00" font-size="13.8" fill="#1a1a1a" stroke="#1a1a1a" stroke-width="0.45" text-anchor="middle" textLength="8.10" lengthAdjust="spacingAndGlyphs">2</text>
<line x1="525.80" y1="531.40" x2="525.80" y2="527.40" stroke="#000" stroke-width="1.3" stroke-linecap="butt"/>
<text x="525.80" y="545.00" font-size="13.8" fill="#1a1a1a" stroke="#1a1a1a" stroke-width="0.45" text-anchor="middle" textLength="8.10" lengthAdjust="spacingAndGlyphs">4</text>
<line x1="580.40" y1="531.40" x2="580.40" y2="527.40" stroke="#000" stroke-width="1.3" stroke-linecap="butt"/>
<text x="580.40" y="545.00" font-size="13.8" fill="#1a1a1a" stroke="#1a1a1a" stroke-width="0.45" text-anchor="middle" textLength="8.10" lengthAdjust="spacingAndGlyphs">6</text>
<line x1="635.00" y1="531.40" x2="635.00" y2="527.40" stroke="#000" stroke-width="1.3" stroke-linecap="butt"/>
<text x="635.00" y="545.00" font-size="13.8" fill="#1a1a1a" stroke="#1a1a1a" stroke-width="0.45" text-anchor="middle" textLength="8.10" lengthAdjust="spacingAndGlyphs">8</text>
<text x="685.50" y="545.00" font-size="13.8" fill="#1a1a1a" stroke="#1a1a1a" stroke-width="0.45" text-anchor="end" textLength="16.20" lengthAdjust="spacingAndGlyphs">10</text>
<line x1="458.00" y1="324.80" x2="458.00" y2="328.80" stroke="#000" stroke-width="1.3" stroke-linecap="butt"/>
<line x1="512.20" y1="324.80" x2="512.20" y2="328.80" stroke="#000" stroke-width="1.3" stroke-linecap="butt"/>
<line x1="566.40" y1="324.80" x2="566.40" y2="328.80" stroke="#000" stroke-width="1.3" stroke-linecap="butt"/>
<line x1="620.50" y1="324.80" x2="620.50" y2="328.80" stroke="#000" stroke-width="1.3" stroke-linecap="butt"/>
<text x="478.60" y="557.30" font-size="15.2" fill="#1a1a1a" stroke="#1a1a1a" stroke-width="0.45" textLength="124.20" lengthAdjust="spacingAndGlyphs">Bound monomers</text>
<text x="381.40" y="467.90" font-size="16.4" fill="#1f2158" stroke="#1f2158" stroke-width="0.45" textLength="95.50" lengthAdjust="spacingAndGlyphs" transform="rotate(-90 381.40 467.90)">Time spent (s)</text>
<line x1="544.30" y1="347.20" x2="568.40" y2="347.20" stroke="#1f78be" stroke-width="2.0" stroke-linecap="butt"/>
<line x1="544.30" y1="369.50" x2="568.40" y2="369.50" stroke="#f99d40" stroke-width="2.0" stroke-linecap="butt"/>
<text x="573.30" y="351.80" font-size="20" fill="#1a1a1a" stroke="#1a1a1a" stroke-width="0.45" textLength="91.40" lengthAdjust="spacingAndGlyphs">nucleation</text>
<text x="573.30" y="373.90" font-size="20" fill="#1a1a1a" stroke="#1a1a1a" stroke-width="0.45" textLength="94.30" lengthAdjust="spacingAndGlyphs">conversion</text>
<text x="5.80" y="570.30" font-size="20.5" fill="#1a1a1a" stroke="#1a1a1a" stroke-width="0.45" textLength="13.60" lengthAdjust="spacingAndGlyphs">D</text>
<polygon points="192.8,788 192.8,729.2 201.1,722.0 201.1,788" fill="#a4d1fa" stroke="none"/>
<line x1="192.80" y1="729.00" x2="192.80" y2="788.00" stroke="#000" stroke-width="1.4" stroke-linecap="butt"/>
<line x1="201.10" y1="720.70" x2="201.10" y2="788.00" stroke="#000" stroke-width="1.4" stroke-linecap="butt"/>
<line x1="45.20" y1="721.00" x2="201.60" y2="721.00" stroke="#000" stroke-width="1.8" stroke-linecap="butt"/>
<circle cx="201.1" cy="720.9" r="1.3" fill="#000"/>
<line x1="45.20" y1="729.70" x2="193.30" y2="729.70" stroke="#000" stroke-width="1.8" stroke-linecap="butt"/>
<path d="M45.70,788.00 C46.33,786.75 48.07,783.08 49.50,780.50 C50.93,777.92 52.72,774.75 54.30,772.50 C55.88,770.25 57.40,768.60 59.00,767.00 C60.60,765.40 61.73,764.73 63.90,762.90 C66.07,761.07 69.33,758.40 72.00,756.00 C74.67,753.60 77.23,751.25 79.90,748.50 C82.57,745.75 85.35,742.70 88.00,739.50 C90.65,736.30 93.43,732.43 95.80,729.30 C98.17,726.17 99.00,725.50 102.20,720.70 C105.40,715.90 110.73,707.32 115.00,700.50 C119.27,693.68 123.00,688.30 127.80,679.80 C132.60,671.30 138.48,659.88 143.80,649.50 C149.12,639.12 154.30,628.00 159.70,617.50 C165.10,607.00 173.45,591.67 176.20,586.50" fill="none" stroke="#f99d40" stroke-width="2.0" stroke-linecap="round"/>
<path d="M45.20,788.00 C46.31,787.66 49.74,786.56 51.89,785.96 C54.04,785.36 56.01,784.85 58.08,784.38 C60.14,783.91 62.20,783.52 64.27,783.14 C66.33,782.76 68.39,782.44 70.46,782.12 C72.52,781.80 74.58,781.52 76.64,781.22 C78.71,780.92 80.77,780.64 82.83,780.34 C84.90,780.04 86.96,779.75 89.02,779.42 C91.09,779.10 93.15,778.76 95.21,778.39 C97.27,778.02 99.34,777.63 101.40,777.19 C103.46,776.76 105.53,776.30 107.59,775.80 C109.65,775.30 111.71,774.76 113.78,774.17 C115.84,773.59 117.90,772.96 119.97,772.29 C122.03,771.62 124.09,770.90 126.16,770.13 C128.22,769.37 130.28,768.55 132.34,767.69 C134.41,766.83 136.47,765.92 138.53,764.96 C140.60,764.01 142.66,763.00 144.72,761.95 C146.79,760.89 148.85,759.79 150.91,758.64 C152.97,757.49 155.04,756.29 157.10,755.05 C159.16,753.81 161.23,752.52 163.29,751.18 C165.35,749.85 167.41,748.47 169.48,747.05 C171.54,745.63 173.60,744.17 175.67,742.66 C177.73,741.16 179.79,739.61 181.86,738.03 C183.92,736.44 185.98,734.82 188.04,733.15 C190.11,731.49 192.17,729.79 194.23,728.06 C196.30,726.32 198.36,724.55 200.42,722.74 C202.49,720.94 204.55,719.09 206.61,717.22 C208.67,715.35 210.74,713.44 212.80,711.50 C214.86,709.57 216.93,707.59 218.99,705.59 C221.05,703.60 223.11,701.56 225.18,699.50 C227.24,697.45 229.30,695.36 231.37,693.24 C233.43,691.12 235.49,688.98 237.56,686.80 C239.62,684.63 241.68,682.43 243.74,680.20 C245.81,677.98 247.87,675.72 249.93,673.45 C252.00,671.17 254.06,668.86 256.12,666.54 C258.19,664.21 260.25,661.86 262.31,659.48 C264.37,657.11 266.44,654.71 268.50,652.29 C270.56,649.87 272.63,647.42 274.69,644.96 C276.75,642.50 278.81,640.02 280.88,637.52 C282.94,635.02 285.00,632.50 287.07,629.97 C289.13,627.44 291.19,624.89 293.26,622.33 C295.32,619.78 297.38,617.20 299.44,614.63 C301.51,612.06 303.57,609.47 305.63,606.89 C307.70,604.31 309.76,601.72 311.82,599.14 C313.89,596.56 315.95,593.98 318.01,591.42 C320.07,588.86 323.17,585.06 324.20,583.79" fill="none" stroke="#1f78be" stroke-width="2.0" stroke-linecap="round"/>
<polyline points="45.20,584.00 45.20,788.20 336.90,788.20" fill="none" stroke="#000" stroke-width="2.0" stroke-linejoin="miter"/>
<text x="41.60" y="793.20" font-size="14.6" fill="#1a1a1a" stroke="#1a1a1a" stroke-width="0.45" text-anchor="end" textLength="7.90" lengthAdjust="spacingAndGlyphs">0</text>
<line x1="45.20" y1="720.00" x2="49.00" y2="720.00" stroke="#000" stroke-width="1.4" stroke-linecap="butt"/>
<text x="41.60" y="727.50" font-size="14.6" fill="#1a1a1a" stroke="#1a1a1a" stroke-width="0.45" text-anchor="end" textLength="15.80" lengthAdjust="spacingAndGlyphs">10</text>
<line x1="45.20" y1="652.00" x2="49.00" y2="652.00" stroke="#000" stroke-width="1.4" stroke-linecap="butt"/>
<text x="41.60" y="659.50" font-size="14.6" fill="#1a1a1a" stroke="#1a1a1a" stroke-width="0.45" text-anchor="end" textLength="15.80" lengthAdjust="spacingAndGlyphs">20</text>
<line x1="45.20" y1="584.00" x2="49.00" y2="584.00" stroke="#000" stroke-width="1.4" stroke-linecap="butt"/>
<text x="41.60" y="591.50" font-size="14.6" fill="#1a1a1a" stroke="#1a1a1a" stroke-width="0.45" text-anchor="end" textLength="15.80" lengthAdjust="spacingAndGlyphs">30</text>
<line x1="103.60" y1="788.20" x2="103.60" y2="783.70" stroke="#000" stroke-width="1.4" stroke-linecap="butt"/>
<line x1="161.50" y1="788.20" x2="161.50" y2="783.70" stroke="#000" stroke-width="1.4" stroke-linecap="butt"/>
<line x1="219.40" y1="788.20" x2="219.40" y2="783.70" stroke="#000" stroke-width="1.4" stroke-linecap="butt"/>
<line x1="277.30" y1="788.20" x2="277.30" y2="783.70" stroke="#000" stroke-width="1.4" stroke-linecap="butt"/>
<line x1="335.20" y1="788.20" x2="335.20" y2="783.70" stroke="#000" stroke-width="1.4" stroke-linecap="butt"/>
<text x="45.70" y="803.00" font-size="14.6" fill="#1a1a1a" stroke="#1a1a1a" stroke-width="0.45" text-anchor="middle" textLength="7.90" lengthAdjust="spacingAndGlyphs">0</text>
<text x="103.00" y="803.00" font-size="14.6" fill="#1a1a1a" stroke="#1a1a1a" stroke-width="0.45" text-anchor="middle" textLength="15.80" lengthAdjust="spacingAndGlyphs">20</text>
<text x="161.30" y="803.00" font-size="14.6" fill="#1a1a1a" stroke="#1a1a1a" stroke-width="0.45" text-anchor="middle" textLength="15.80" lengthAdjust="spacingAndGlyphs">40</text>
<text x="222.00" y="803.00" font-size="14.6" fill="#1a1a1a" stroke="#1a1a1a" stroke-width="0.45" text-anchor="middle" textLength="15.80" lengthAdjust="spacingAndGlyphs">60</text>
<text x="280.00" y="803.00" font-size="14.6" fill="#1a1a1a" stroke="#1a1a1a" stroke-width="0.45" text-anchor="middle" textLength="15.80" lengthAdjust="spacingAndGlyphs">80</text>
<text x="327.80" y="803.00" font-size="14.6" fill="#1a1a1a" stroke="#1a1a1a" stroke-width="0.45" textLength="23.70" lengthAdjust="spacingAndGlyphs">100</text>
<text x="162.50" y="818.00" font-size="15" fill="#1a1a1a" stroke="#1a1a1a" stroke-width="0.45" textLength="52.20" lengthAdjust="spacingAndGlyphs">Time (s)</text>
<text x="23.40" y="753.30" font-size="15.6" fill="#1a1a1a" stroke="#1a1a1a" stroke-width="0.45" textLength="126.00" lengthAdjust="spacingAndGlyphs" transform="rotate(-90 23.40 753.30)">Monomer number</text>
<text x="126.20" y="715.20" font-size="18.5" fill="#1a1a1a" stroke="#1a1a1a" stroke-width="0.45" textLength="54.00" lengthAdjust="spacingAndGlyphs">N = 10</text>
<text x="122.40" y="746.40" font-size="18.5" fill="#1a1a1a" stroke="#1a1a1a" stroke-width="0.45" textLength="43.70" lengthAdjust="spacingAndGlyphs">N = 9</text>
<text x="210.70" y="762.20" font-size="18.5" fill="#1a1a1a" stroke="#1a1a1a" stroke-width="0.45" textLength="112.00" lengthAdjust="spacingAndGlyphs">Average time</text>
<text x="369.80" y="570.80" font-size="20.5" fill="#1a1a1a" stroke="#1a1a1a" stroke-width="0.45" textLength="12.40" lengthAdjust="spacingAndGlyphs">E</text>
<g>
<circle cx="410.73" cy="610.40" r="3.8" fill="#fb9632"/>
<circle cx="419.76" cy="623.70" r="3.8" fill="#fb9632"/>
<circle cx="428.79" cy="647.80" r="3.8" fill="#fb9632"/>
<circle cx="437.82" cy="662.50" r="3.8" fill="#fb9632"/>
<circle cx="446.85" cy="666.70" r="3.8" fill="#fb9632"/>
<circle cx="455.88" cy="660.50" r="3.8" fill="#fb9632"/>
<circle cx="464.91" cy="651.70" r="3.8" fill="#fb9632"/>
<line x1="473.94" y1="639.48" x2="473.94" y2="646.52" stroke="#fb9632" stroke-width="1.6" stroke-linecap="butt"/>
<line x1="470.94" y1="639.48" x2="476.94" y2="639.48" stroke="#fb9632" stroke-width="1.5" stroke-linecap="butt"/>
<line x1="470.94" y1="646.52" x2="476.94" y2="646.52" stroke="#fb9632" stroke-width="1.5" stroke-linecap="butt"/>
<circle cx="473.94" cy="643.00" r="3.8" fill="#fb9632"/>
<line x1="482.97" y1="628.54" x2="482.97" y2="635.86" stroke="#fb9632" stroke-width="1.6" stroke-linecap="butt"/>
<line x1="479.97" y1="628.54" x2="485.97" y2="628.54" stroke="#fb9632" stroke-width="1.5" stroke-linecap="butt"/>
<line x1="479.97" y1="635.86" x2="485.97" y2="635.86" stroke="#fb9632" stroke-width="1.5" stroke-linecap="butt"/>
<circle cx="482.97" cy="632.20" r="3.8" fill="#fb9632"/>
<line x1="492.00" y1="626.80" x2="492.00" y2="634.40" stroke="#fb9632" stroke-width="1.6" stroke-linecap="butt"/>
<line x1="489.00" y1="626.80" x2="495.00" y2="626.80" stroke="#fb9632" stroke-width="1.5" stroke-linecap="butt"/>
<line x1="489.00" y1="634.40" x2="495.00" y2="634.40" stroke="#fb9632" stroke-width="1.5" stroke-linecap="butt"/>
<circle cx="492.00" cy="630.60" r="3.8" fill="#fb9632"/>
<line x1="501.03" y1="623.36" x2="501.03" y2="631.24" stroke="#fb9632" stroke-width="1.6" stroke-linecap="butt"/>
<line x1="498.03" y1="623.36" x2="504.03" y2="623.36" stroke="#fb9632" stroke-width="1.5" stroke-linecap="butt"/>
<line x1="498.03" y1="631.24" x2="504.03" y2="631.24" stroke="#fb9632" stroke-width="1.5" stroke-linecap="butt"/>
<circle cx="501.03" cy="627.30" r="3.8" fill="#fb9632"/>
<line x1="510.06" y1="619.32" x2="510.06" y2="627.48" stroke="#fb9632" stroke-width="1.6" stroke-linecap="butt"/>
<line x1="507.06" y1="619.32" x2="513.06" y2="619.32" stroke="#fb9632" stroke-width="1.5" stroke-linecap="butt"/>
<line x1="507.06" y1="627.48" x2="513.06" y2="627.48" stroke="#fb9632" stroke-width="1.5" stroke-linecap="butt"/>
<circle cx="510.06" cy="623.40" r="3.8" fill="#fb9632"/>
<line x1="519.09" y1="620.78" x2="519.09" y2="629.22" stroke="#fb9632" stroke-width="1.6" stroke-linecap="butt"/>
<line x1="516.09" y1="620.78" x2="522.09" y2="620.78" stroke="#fb9632" stroke-width="1.5" stroke-linecap="butt"/>
<line x1="516.09" y1="629.22" x2="522.09" y2="629.22" stroke="#fb9632" stroke-width="1.5" stroke-linecap="butt"/>
<circle cx="519.09" cy="625.00" r="3.8" fill="#fb9632"/>
<line x1="528.12" y1="622.94" x2="528.12" y2="631.66" stroke="#fb9632" stroke-width="1.6" stroke-linecap="butt"/>
<line x1="525.12" y1="622.94" x2="531.12" y2="622.94" stroke="#fb9632" stroke-width="1.5" stroke-linecap="butt"/>
<line x1="525.12" y1="631.66" x2="531.12" y2="631.66" stroke="#fb9632" stroke-width="1.5" stroke-linecap="butt"/>
<circle cx="528.12" cy="627.30" r="3.8" fill="#fb9632"/>
<line x1="537.15" y1="621.20" x2="537.15" y2="630.20" stroke="#fb9632" stroke-width="1.6" stroke-linecap="butt"/>
<line x1="534.15" y1="621.20" x2="540.15" y2="621.20" stroke="#fb9632" stroke-width="1.5" stroke-linecap="butt"/>
<line x1="534.15" y1="630.20" x2="540.15" y2="630.20" stroke="#fb9632" stroke-width="1.5" stroke-linecap="butt"/>
<circle cx="537.15" cy="625.70" r="3.8" fill="#fb9632"/>
<line x1="546.18" y1="617.16" x2="546.18" y2="626.44" stroke="#fb9632" stroke-width="1.6" stroke-linecap="butt"/>
<line x1="543.18" y1="617.16" x2="549.18" y2="617.16" stroke="#fb9632" stroke-width="1.5" stroke-linecap="butt"/>
<line x1="543.18" y1="626.44" x2="549.18" y2="626.44" stroke="#fb9632" stroke-width="1.5" stroke-linecap="butt"/>
<circle cx="546.18" cy="621.80" r="3.8" fill="#fb9632"/>
<line x1="555.21" y1="619.22" x2="555.21" y2="628.78" stroke="#fb9632" stroke-width="1.6" stroke-linecap="butt"/>
<line x1="552.21" y1="619.22" x2="558.21" y2="619.22" stroke="#fb9632" stroke-width="1.5" stroke-linecap="butt"/>
<line x1="552.21" y1="628.78" x2="558.21" y2="628.78" stroke="#fb9632" stroke-width="1.5" stroke-linecap="butt"/>
<circle cx="555.21" cy="624.00" r="3.8" fill="#fb9632"/>
<line x1="564.24" y1="614.28" x2="564.24" y2="624.12" stroke="#fb9632" stroke-width="1.6" stroke-linecap="butt"/>
<line x1="561.24" y1="614.28" x2="567.24" y2="614.28" stroke="#fb9632" stroke-width="1.5" stroke-linecap="butt"/>
<line x1="561.24" y1="624.12" x2="567.24" y2="624.12" stroke="#fb9632" stroke-width="1.5" stroke-linecap="butt"/>
<circle cx="564.24" cy="619.20" r="3.8" fill="#fb9632"/>
<line x1="573.27" y1="613.44" x2="573.27" y2="623.56" stroke="#fb9632" stroke-width="1.6" stroke-linecap="butt"/>
<line x1="570.27" y1="613.44" x2="576.27" y2="613.44" stroke="#fb9632" stroke-width="1.5" stroke-linecap="butt"/>
<line x1="570.27" y1="623.56" x2="576.27" y2="623.56" stroke="#fb9632" stroke-width="1.5" stroke-linecap="butt"/>
<circle cx="573.27" cy="618.50" r="3.8" fill="#fb9632"/>
<line x1="582.30" y1="610.10" x2="582.30" y2="620.50" stroke="#fb9632" stroke-width="1.6" stroke-linecap="butt"/>
<line x1="579.30" y1="610.10" x2="585.30" y2="610.10" stroke="#fb9632" stroke-width="1.5" stroke-linecap="butt"/>
<line x1="579.30" y1="620.50" x2="585.30" y2="620.50" stroke="#fb9632" stroke-width="1.5" stroke-linecap="butt"/>
<circle cx="582.30" cy="615.30" r="3.8" fill="#fb9632"/>
<line x1="591.33" y1="610.56" x2="591.33" y2="621.24" stroke="#fb9632" stroke-width="1.6" stroke-linecap="butt"/>
<line x1="588.33" y1="610.56" x2="594.33" y2="610.56" stroke="#fb9632" stroke-width="1.5" stroke-linecap="butt"/>
<line x1="588.33" y1="621.24" x2="594.33" y2="621.24" stroke="#fb9632" stroke-width="1.5" stroke-linecap="butt"/>
<circle cx="591.33" cy="615.90" r="3.8" fill="#fb9632"/>
<line x1="600.36" y1="604.92" x2="600.36" y2="615.88" stroke="#fb9632" stroke-width="1.6" stroke-linecap="butt"/>
<line x1="597.36" y1="604.92" x2="603.36" y2="604.92" stroke="#fb9632" stroke-width="1.5" stroke-linecap="butt"/>
<line x1="597.36" y1="615.88" x2="603.36" y2="615.88" stroke="#fb9632" stroke-width="1.5" stroke-linecap="butt"/>
<circle cx="600.36" cy="610.40" r="3.8" fill="#fb9632"/>
<line x1="609.39" y1="617.18" x2="609.39" y2="628.42" stroke="#fb9632" stroke-width="1.6" stroke-linecap="butt"/>
<line x1="606.39" y1="617.18" x2="612.39" y2="617.18" stroke="#fb9632" stroke-width="1.5" stroke-linecap="butt"/>
<line x1="606.39" y1="628.42" x2="612.39" y2="628.42" stroke="#fb9632" stroke-width="1.5" stroke-linecap="butt"/>
<circle cx="609.39" cy="622.80" r="3.8" fill="#fb9632"/>
<line x1="618.42" y1="607.24" x2="618.42" y2="618.76" stroke="#fb9632" stroke-width="1.6" stroke-linecap="butt"/>
<line x1="615.42" y1="607.24" x2="621.42" y2="607.24" stroke="#fb9632" stroke-width="1.5" stroke-linecap="butt"/>
<line x1="615.42" y1="618.76" x2="621.42" y2="618.76" stroke="#fb9632" stroke-width="1.5" stroke-linecap="butt"/>
<circle cx="618.42" cy="613.00" r="3.8" fill="#fb9632"/>
<line x1="627.45" y1="617.50" x2="627.45" y2="629.30" stroke="#fb9632" stroke-width="1.6" stroke-linecap="butt"/>
<line x1="624.45" y1="617.50" x2="630.45" y2="617.50" stroke="#fb9632" stroke-width="1.5" stroke-linecap="butt"/>
<line x1="624.45" y1="629.30" x2="630.45" y2="629.30" stroke="#fb9632" stroke-width="1.5" stroke-linecap="butt"/>
<circle cx="627.45" cy="623.40" r="3.8" fill="#fb9632"/>
<line x1="636.48" y1="614.10" x2="636.48" y2="626.10" stroke="#fb9632" stroke-width="1.6" stroke-linecap="butt"/>
<line x1="633.48" y1="614.10" x2="639.48" y2="614.10" stroke="#fb9632" stroke-width="1.5" stroke-linecap="butt"/>
<line x1="633.48" y1="626.10" x2="639.48" y2="626.10" stroke="#fb9632" stroke-width="1.5" stroke-linecap="butt"/>
<circle cx="636.48" cy="620.10" r="3.8" fill="#fb9632"/>
<line x1="645.51" y1="613.20" x2="645.51" y2="625.20" stroke="#fb9632" stroke-width="1.6" stroke-linecap="butt"/>
<line x1="642.51" y1="613.20" x2="648.51" y2="613.20" stroke="#fb9632" stroke-width="1.5" stroke-linecap="butt"/>
<line x1="642.51" y1="625.20" x2="648.51" y2="625.20" stroke="#fb9632" stroke-width="1.5" stroke-linecap="butt"/>
<circle cx="645.51" cy="619.20" r="3.8" fill="#fb9632"/>
<line x1="654.54" y1="602.70" x2="654.54" y2="614.70" stroke="#fb9632" stroke-width="1.6" stroke-linecap="butt"/>
<line x1="651.54" y1="602.70" x2="657.54" y2="602.70" stroke="#fb9632" stroke-width="1.5" stroke-linecap="butt"/>
<line x1="651.54" y1="614.70" x2="657.54" y2="614.70" stroke="#fb9632" stroke-width="1.5" stroke-linecap="butt"/>
<circle cx="654.54" cy="608.70" r="3.8" fill="#fb9632"/>
<line x1="663.57" y1="613.20" x2="663.57" y2="625.20" stroke="#fb9632" stroke-width="1.6" stroke-linecap="butt"/>
<line x1="660.57" y1="613.20" x2="666.57" y2="613.20" stroke="#fb9632" stroke-width="1.5" stroke-linecap="butt"/>
<line x1="660.57" y1="625.20" x2="666.57" y2="625.20" stroke="#fb9632" stroke-width="1.5" stroke-linecap="butt"/>
<circle cx="663.57" cy="619.20" r="3.8" fill="#fb9632"/>
<line x1="672.60" y1="609.30" x2="672.60" y2="621.30" stroke="#fb9632" stroke-width="1.6" stroke-linecap="butt"/>
<line x1="669.60" y1="609.30" x2="675.60" y2="609.30" stroke="#fb9632" stroke-width="1.5" stroke-linecap="butt"/>
<line x1="669.60" y1="621.30" x2="675.60" y2="621.30" stroke="#fb9632" stroke-width="1.5" stroke-linecap="butt"/>
<circle cx="672.60" cy="615.30" r="3.8" fill="#fb9632"/>
<circle cx="411.73" cy="770.00" r="2.4" fill="#cfe4f4" fill-opacity="0.8" stroke="#1f78be" stroke-width="2.6"/>
<circle cx="420.76" cy="767.40" r="2.4" fill="#cfe4f4" fill-opacity="0.8" stroke="#1f78be" stroke-width="2.6"/>
<circle cx="429.79" cy="747.50" r="2.4" fill="#cfe4f4" fill-opacity="0.8" stroke="#1f78be" stroke-width="2.6"/>
<circle cx="438.82" cy="723.10" r="2.4" fill="#cfe4f4" fill-opacity="0.8" stroke="#1f78be" stroke-width="2.6"/>
<circle cx="447.85" cy="703.90" r="2.4" fill="#cfe4f4" fill-opacity="0.8" stroke="#1f78be" stroke-width="2.6"/>
<circle cx="456.88" cy="685.00" r="2.4" fill="#cfe4f4" fill-opacity="0.8" stroke="#1f78be" stroke-width="2.6"/>
<circle cx="465.91" cy="672.90" r="2.4" fill="#cfe4f4" fill-opacity="0.8" stroke="#1f78be" stroke-width="2.6"/>
<circle cx="474.94" cy="658.30" r="2.4" fill="#cfe4f4" fill-opacity="0.8" stroke="#1f78be" stroke-width="2.6"/>
<line x1="483.97" y1="648.10" x2="483.97" y2="656.10" stroke="#8fc4ea" stroke-width="1.3" stroke-linecap="butt"/>
<line x1="480.77" y1="648.10" x2="487.17" y2="648.10" stroke="#8fc4ea" stroke-width="1.2" stroke-linecap="butt"/>
<line x1="480.77" y1="656.10" x2="487.17" y2="656.10" stroke="#8fc4ea" stroke-width="1.2" stroke-linecap="butt"/>
<circle cx="483.97" cy="652.10" r="2.4" fill="#cfe4f4" fill-opacity="0.8" stroke="#1f78be" stroke-width="2.6"/>
<line x1="493.00" y1="638.10" x2="493.00" y2="646.50" stroke="#8fc4ea" stroke-width="1.3" stroke-linecap="butt"/>
<line x1="489.80" y1="638.10" x2="496.20" y2="638.10" stroke="#8fc4ea" stroke-width="1.2" stroke-linecap="butt"/>
<line x1="489.80" y1="646.50" x2="496.20" y2="646.50" stroke="#8fc4ea" stroke-width="1.2" stroke-linecap="butt"/>
<circle cx="493.00" cy="642.30" r="2.4" fill="#cfe4f4" fill-opacity="0.8" stroke="#1f78be" stroke-width="2.6"/>
<line x1="502.03" y1="634.60" x2="502.03" y2="643.40" stroke="#8fc4ea" stroke-width="1.3" stroke-linecap="butt"/>
<line x1="498.83" y1="634.60" x2="505.23" y2="634.60" stroke="#8fc4ea" stroke-width="1.2" stroke-linecap="butt"/>
<line x1="498.83" y1="643.40" x2="505.23" y2="643.40" stroke="#8fc4ea" stroke-width="1.2" stroke-linecap="butt"/>
<circle cx="502.03" cy="639.00" r="2.4" fill="#cfe4f4" fill-opacity="0.8" stroke="#1f78be" stroke-width="2.6"/>
<line x1="511.06" y1="636.70" x2="511.06" y2="645.90" stroke="#8fc4ea" stroke-width="1.3" stroke-linecap="butt"/>
<line x1="507.86" y1="636.70" x2="514.26" y2="636.70" stroke="#8fc4ea" stroke-width="1.2" stroke-linecap="butt"/>
<line x1="507.86" y1="645.90" x2="514.26" y2="645.90" stroke="#8fc4ea" stroke-width="1.2" stroke-linecap="butt"/>
<circle cx="511.06" cy="641.30" r="2.4" fill="#cfe4f4" fill-opacity="0.8" stroke="#1f78be" stroke-width="2.6"/>
<line x1="520.09" y1="633.70" x2="520.09" y2="643.30" stroke="#8fc4ea" stroke-width="1.3" stroke-linecap="butt"/>
<line x1="516.89" y1="633.70" x2="523.29" y2="633.70" stroke="#8fc4ea" stroke-width="1.2" stroke-linecap="butt"/>
<line x1="516.89" y1="643.30" x2="523.29" y2="643.30" stroke="#8fc4ea" stroke-width="1.2" stroke-linecap="butt"/>
<circle cx="520.09" cy="638.50" r="2.4" fill="#cfe4f4" fill-opacity="0.8" stroke="#1f78be" stroke-width="2.6"/>
<line x1="529.12" y1="624.90" x2="529.12" y2="634.90" stroke="#8fc4ea" stroke-width="1.3" stroke-linecap="butt"/>
<line x1="525.92" y1="624.90" x2="532.32" y2="624.90" stroke="#8fc4ea" stroke-width="1.2" stroke-linecap="butt"/>
<line x1="525.92" y1="634.90" x2="532.32" y2="634.90" stroke="#8fc4ea" stroke-width="1.2" stroke-linecap="butt"/>
<circle cx="529.12" cy="629.90" r="2.4" fill="#cfe4f4" fill-opacity="0.8" stroke="#1f78be" stroke-width="2.6"/>
<line x1="538.15" y1="626.70" x2="538.15" y2="637.10" stroke="#8fc4ea" stroke-width="1.3" stroke-linecap="butt"/>
<line x1="534.95" y1="626.70" x2="541.35" y2="626.70" stroke="#8fc4ea" stroke-width="1.2" stroke-linecap="butt"/>
<line x1="534.95" y1="637.10" x2="541.35" y2="637.10" stroke="#8fc4ea" stroke-width="1.2" stroke-linecap="butt"/>
<circle cx="538.15" cy="631.90" r="2.4" fill="#cfe4f4" fill-opacity="0.8" stroke="#1f78be" stroke-width="2.6"/>
<line x1="547.18" y1="617.40" x2="547.18" y2="628.20" stroke="#8fc4ea" stroke-width="1.3" stroke-linecap="butt"/>
<line x1="543.98" y1="617.40" x2="550.38" y2="617.40" stroke="#8fc4ea" stroke-width="1.2" stroke-linecap="butt"/>
<line x1="543.98" y1="628.20" x2="550.38" y2="628.20" stroke="#8fc4ea" stroke-width="1.2" stroke-linecap="butt"/>
<circle cx="547.18" cy="622.80" r="2.4" fill="#cfe4f4" fill-opacity="0.8" stroke="#1f78be" stroke-width="2.6"/>
<line x1="556.21" y1="623.30" x2="556.21" y2="634.50" stroke="#8fc4ea" stroke-width="1.3" stroke-linecap="butt"/>
<line x1="553.01" y1="623.30" x2="559.41" y2="623.30" stroke="#8fc4ea" stroke-width="1.2" stroke-linecap="butt"/>
<line x1="553.01" y1="634.50" x2="559.41" y2="634.50" stroke="#8fc4ea" stroke-width="1.2" stroke-linecap="butt"/>
<circle cx="556.21" cy="628.90" r="2.4" fill="#cfe4f4" fill-opacity="0.8" stroke="#1f78be" stroke-width="2.6"/>
<line x1="565.24" y1="619.90" x2="565.24" y2="631.50" stroke="#8fc4ea" stroke-width="1.3" stroke-linecap="butt"/>
<line x1="562.04" y1="619.90" x2="568.44" y2="619.90" stroke="#8fc4ea" stroke-width="1.2" stroke-linecap="butt"/>
<line x1="562.04" y1="631.50" x2="568.44" y2="631.50" stroke="#8fc4ea" stroke-width="1.2" stroke-linecap="butt"/>
<circle cx="565.24" cy="625.70" r="2.4" fill="#cfe4f4" fill-opacity="0.8" stroke="#1f78be" stroke-width="2.6"/>
<line x1="574.27" y1="622.00" x2="574.27" y2="634.00" stroke="#8fc4ea" stroke-width="1.3" stroke-linecap="butt"/>
<line x1="571.07" y1="622.00" x2="577.47" y2="622.00" stroke="#8fc4ea" stroke-width="1.2" stroke-linecap="butt"/>
<line x1="571.07" y1="634.00" x2="577.47" y2="634.00" stroke="#8fc4ea" stroke-width="1.2" stroke-linecap="butt"/>
<circle cx="574.27" cy="628.00" r="2.4" fill="#cfe4f4" fill-opacity="0.8" stroke="#1f78be" stroke-width="2.6"/>
<line x1="583.30" y1="612.30" x2="583.30" y2="624.70" stroke="#8fc4ea" stroke-width="1.3" stroke-linecap="butt"/>
<line x1="580.10" y1="612.30" x2="586.50" y2="612.30" stroke="#8fc4ea" stroke-width="1.2" stroke-linecap="butt"/>
<line x1="580.10" y1="624.70" x2="586.50" y2="624.70" stroke="#8fc4ea" stroke-width="1.2" stroke-linecap="butt"/>
<circle cx="583.30" cy="618.50" r="2.4" fill="#cfe4f4" fill-opacity="0.8" stroke="#1f78be" stroke-width="2.6"/>
<line x1="592.33" y1="618.00" x2="592.33" y2="630.80" stroke="#8fc4ea" stroke-width="1.3" stroke-linecap="butt"/>
<line x1="589.13" y1="618.00" x2="595.53" y2="618.00" stroke="#8fc4ea" stroke-width="1.2" stroke-linecap="butt"/>
<line x1="589.13" y1="630.80" x2="595.53" y2="630.80" stroke="#8fc4ea" stroke-width="1.2" stroke-linecap="butt"/>
<circle cx="592.33" cy="624.40" r="2.4" fill="#cfe4f4" fill-opacity="0.8" stroke="#1f78be" stroke-width="2.6"/>
<line x1="601.36" y1="615.80" x2="601.36" y2="629.00" stroke="#8fc4ea" stroke-width="1.3" stroke-linecap="butt"/>
<line x1="598.16" y1="615.80" x2="604.56" y2="615.80" stroke="#8fc4ea" stroke-width="1.2" stroke-linecap="butt"/>
<line x1="598.16" y1="629.00" x2="604.56" y2="629.00" stroke="#8fc4ea" stroke-width="1.2" stroke-linecap="butt"/>
<circle cx="601.36" cy="622.40" r="2.4" fill="#cfe4f4" fill-opacity="0.8" stroke="#1f78be" stroke-width="2.6"/>
<line x1="610.39" y1="617.20" x2="610.39" y2="630.80" stroke="#8fc4ea" stroke-width="1.3" stroke-linecap="butt"/>
<line x1="607.19" y1="617.20" x2="613.59" y2="617.20" stroke="#8fc4ea" stroke-width="1.2" stroke-linecap="butt"/>
<line x1="607.19" y1="630.80" x2="613.59" y2="630.80" stroke="#8fc4ea" stroke-width="1.2" stroke-linecap="butt"/>
<circle cx="610.39" cy="624.00" r="2.4" fill="#cfe4f4" fill-opacity="0.8" stroke="#1f78be" stroke-width="2.6"/>
<line x1="619.42" y1="620.60" x2="619.42" y2="634.60" stroke="#8fc4ea" stroke-width="1.3" stroke-linecap="butt"/>
<line x1="616.22" y1="620.60" x2="622.62" y2="620.60" stroke="#8fc4ea" stroke-width="1.2" stroke-linecap="butt"/>
<line x1="616.22" y1="634.60" x2="622.62" y2="634.60" stroke="#8fc4ea" stroke-width="1.2" stroke-linecap="butt"/>
<circle cx="619.42" cy="627.60" r="2.4" fill="#cfe4f4" fill-opacity="0.8" stroke="#1f78be" stroke-width="2.6"/>
<line x1="628.45" y1="609.70" x2="628.45" y2="624.10" stroke="#8fc4ea" stroke-width="1.3" stroke-linecap="butt"/>
<line x1="625.25" y1="609.70" x2="631.65" y2="609.70" stroke="#8fc4ea" stroke-width="1.2" stroke-linecap="butt"/>
<line x1="625.25" y1="624.10" x2="631.65" y2="624.10" stroke="#8fc4ea" stroke-width="1.2" stroke-linecap="butt"/>
<circle cx="628.45" cy="616.90" r="2.4" fill="#cfe4f4" fill-opacity="0.8" stroke="#1f78be" stroke-width="2.6"/>
<line x1="637.48" y1="608.80" x2="637.48" y2="623.60" stroke="#8fc4ea" stroke-width="1.3" stroke-linecap="butt"/>
<line x1="634.28" y1="608.80" x2="640.68" y2="608.80" stroke="#8fc4ea" stroke-width="1.2" stroke-linecap="butt"/>
<line x1="634.28" y1="623.60" x2="640.68" y2="623.60" stroke="#8fc4ea" stroke-width="1.2" stroke-linecap="butt"/>
<circle cx="637.48" cy="616.20" r="2.4" fill="#cfe4f4" fill-opacity="0.8" stroke="#1f78be" stroke-width="2.6"/>
<line x1="646.51" y1="617.40" x2="646.51" y2="632.60" stroke="#8fc4ea" stroke-width="1.3" stroke-linecap="butt"/>
<line x1="643.31" y1="617.40" x2="649.71" y2="617.40" stroke="#8fc4ea" stroke-width="1.2" stroke-linecap="butt"/>
<line x1="643.31" y1="632.60" x2="649.71" y2="632.60" stroke="#8fc4ea" stroke-width="1.2" stroke-linecap="butt"/>
<circle cx="646.51" cy="625.00" r="2.4" fill="#cfe4f4" fill-opacity="0.8" stroke="#1f78be" stroke-width="2.6"/>
<line x1="655.54" y1="615.60" x2="655.54" y2="631.20" stroke="#8fc4ea" stroke-width="1.3" stroke-linecap="butt"/>
<line x1="652.34" y1="615.60" x2="658.74" y2="615.60" stroke="#8fc4ea" stroke-width="1.2" stroke-linecap="butt"/>
<line x1="652.34" y1="631.20" x2="658.74" y2="631.20" stroke="#8fc4ea" stroke-width="1.2" stroke-linecap="butt"/>
<circle cx="655.54" cy="623.40" r="2.4" fill="#cfe4f4" fill-opacity="0.8" stroke="#1f78be" stroke-width="2.6"/>
<line x1="664.57" y1="613.40" x2="664.57" y2="629.40" stroke="#8fc4ea" stroke-width="1.3" stroke-linecap="butt"/>
<line x1="661.37" y1="613.40" x2="667.77" y2="613.40" stroke="#8fc4ea" stroke-width="1.2" stroke-linecap="butt"/>
<line x1="661.37" y1="629.40" x2="667.77" y2="629.40" stroke="#8fc4ea" stroke-width="1.2" stroke-linecap="butt"/>
<circle cx="664.57" cy="621.40" r="2.4" fill="#cfe4f4" fill-opacity="0.8" stroke="#1f78be" stroke-width="2.6"/>
<line x1="673.60" y1="609.90" x2="673.60" y2="625.90" stroke="#8fc4ea" stroke-width="1.3" stroke-linecap="butt"/>
<line x1="670.40" y1="609.90" x2="676.80" y2="609.90" stroke="#8fc4ea" stroke-width="1.2" stroke-linecap="butt"/>
<line x1="670.40" y1="625.90" x2="676.80" y2="625.90" stroke="#8fc4ea" stroke-width="1.2" stroke-linecap="butt"/>
<circle cx="673.60" cy="617.90" r="2.4" fill="#cfe4f4" fill-opacity="0.8" stroke="#1f78be" stroke-width="2.6"/>
</g>
<rect x="401.8" y="584.6" width="270.90" height="202.60" fill="none" stroke="#000" stroke-width="1.9"/>
<line x1="401.80" y1="753.55" x2="405.80" y2="753.55" stroke="#000" stroke-width="1.3" stroke-linecap="butt"/>
<line x1="672.70" y1="753.55" x2="668.70" y2="753.55" stroke="#000" stroke-width="1.3" stroke-linecap="butt"/>
<line x1="401.80" y1="719.90" x2="405.80" y2="719.90" stroke="#000" stroke-width="1.3" stroke-linecap="butt"/>
<line x1="672.70" y1="719.90" x2="668.70" y2="719.90" stroke="#000" stroke-width="1.3" stroke-linecap="butt"/>
<line x1="401.80" y1="686.25" x2="405.80" y2="686.25" stroke="#000" stroke-width="1.3" stroke-linecap="butt"/>
<line x1="672.70" y1="686.25" x2="668.70" y2="686.25" stroke="#000" stroke-width="1.3" stroke-linecap="butt"/>
<line x1="401.80" y1="652.60" x2="405.80" y2="652.60" stroke="#000" stroke-width="1.3" stroke-linecap="butt"/>
<line x1="672.70" y1="652.60" x2="668.70" y2="652.60" stroke="#000" stroke-width="1.3" stroke-linecap="butt"/>
<line x1="401.80" y1="618.95" x2="405.80" y2="618.95" stroke="#000" stroke-width="1.3" stroke-linecap="butt"/>
<line x1="672.70" y1="618.95" x2="668.70" y2="618.95" stroke="#000" stroke-width="1.3" stroke-linecap="butt"/>
<text x="399.20" y="593.20" font-size="14.4" fill="#1a1a1a" stroke="#1a1a1a" stroke-width="0.45" text-anchor="end" textLength="8.10" lengthAdjust="spacingAndGlyphs">1</text>
<text x="399.20" y="625.35" font-size="14.4" fill="#1a1a1a" stroke="#1a1a1a" stroke-width="0.45" text-anchor="end" textLength="20.17" lengthAdjust="spacingAndGlyphs">0.9</text>
<text x="399.20" y="659.00" font-size="14.4" fill="#1a1a1a" stroke="#1a1a1a" stroke-width="0.45" text-anchor="end" textLength="20.17" lengthAdjust="spacingAndGlyphs">0.8</text>
<text x="399.20" y="693.25" font-size="14.4" fill="#1a1a1a" stroke="#1a1a1a" stroke-width="0.45" text-anchor="end" textLength="20.17" lengthAdjust="spacingAndGlyphs">0.7</text>
<text x="399.20" y="727.50" font-size="14.4" fill="#1a1a1a" stroke="#1a1a1a" stroke-width="0.45" text-anchor="end" textLength="20.17" lengthAdjust="spacingAndGlyphs">0.6</text>
<text x="399.20" y="760.75" font-size="14.4" fill="#1a1a1a" stroke="#1a1a1a" stroke-width="0.45" text-anchor="end" textLength="20.17" lengthAdjust="spacingAndGlyphs">0.5</text>
<text x="399.20" y="792.00" font-size="14.4" fill="#1a1a1a" stroke="#1a1a1a" stroke-width="0.45" text-anchor="end" textLength="20.17" lengthAdjust="spacingAndGlyphs">0.4</text>
<line x1="446.85" y1="787.20" x2="446.85" y2="783.20" stroke="#000" stroke-width="1.3" stroke-linecap="butt"/>
<line x1="492.00" y1="787.20" x2="492.00" y2="783.20" stroke="#000" stroke-width="1.3" stroke-linecap="butt"/>
<line x1="537.15" y1="787.20" x2="537.15" y2="783.20" stroke="#000" stroke-width="1.3" stroke-linecap="butt"/>
<line x1="582.30" y1="787.20" x2="582.30" y2="783.20" stroke="#000" stroke-width="1.3" stroke-linecap="butt"/>
<line x1="627.45" y1="787.20" x2="627.45" y2="783.20" stroke="#000" stroke-width="1.3" stroke-linecap="butt"/>
<text x="402.50" y="802.90" font-size="13.8" fill="#1a1a1a" stroke="#1a1a1a" stroke-width="0.45" text-anchor="middle" textLength="8.00" lengthAdjust="spacingAndGlyphs">0</text>
<text x="447.40" y="802.90" font-size="13.8" fill="#1a1a1a" stroke="#1a1a1a" stroke-width="0.45" text-anchor="middle" textLength="8.00" lengthAdjust="spacingAndGlyphs">5</text>
<text x="494.00" y="802.90" font-size="13.8" fill="#1a1a1a" stroke="#1a1a1a" stroke-width="0.45" text-anchor="middle" textLength="16.00" lengthAdjust="spacingAndGlyphs">10</text>
<text x="539.30" y="802.90" font-size="13.8" fill="#1a1a1a" stroke="#1a1a1a" stroke-width="0.45" text-anchor="middle" textLength="16.00" lengthAdjust="spacingAndGlyphs">15</text>
<text x="584.20" y="802.90" font-size="13.8" fill="#1a1a1a" stroke="#1a1a1a" stroke-width="0.45" text-anchor="middle" textLength="16.00" lengthAdjust="spacingAndGlyphs">20</text>
<text x="629.30" y="802.90" font-size="13.8" fill="#1a1a1a" stroke="#1a1a1a" stroke-width="0.45" text-anchor="middle" textLength="16.00" lengthAdjust="spacingAndGlyphs">25</text>
<text x="681.20" y="802.90" font-size="13.8" fill="#1a1a1a" stroke="#1a1a1a" stroke-width="0.45" text-anchor="end" textLength="16.00" lengthAdjust="spacingAndGlyphs">30</text>
<text x="490.40" y="818.50" font-size="15" fill="#1a1a1a" stroke="#1a1a1a" stroke-width="0.45" textLength="106.90" lengthAdjust="spacingAndGlyphs">Monomer steps</text>
<text x="371.6" y="735.8" font-size="15.6" fill="#1a1a1a" stroke="#1a1a1a" stroke-width="0.45" transform="rotate(-90 372 735.8)" textLength="117.6" lengthAdjust="spacingAndGlyphs">Average rate (s<tspan dy="-6" font-size="11">-1</tspan><tspan dy="6">)</tspan></text>
<line x1="540.40" y1="742.30" x2="564.80" y2="742.30" stroke="#1f78be" stroke-width="2.0" stroke-linecap="butt"/>
<line x1="540.40" y1="763.50" x2="564.80" y2="763.50" stroke="#f99d40" stroke-width="2.0" stroke-linecap="butt"/>
<text x="569.70" y="745.80" font-size="20" fill="#1a1a1a" stroke="#1a1a1a" stroke-width="0.45" textLength="90.30" lengthAdjust="spacingAndGlyphs">nucleation</text>
<text x="569.70" y="767.90" font-size="20" fill="#1a1a1a" stroke="#1a1a1a" stroke-width="0.45" textLength="94.50" lengthAdjust="spacingAndGlyphs">conversion</text>
</svg>
</body></html>
